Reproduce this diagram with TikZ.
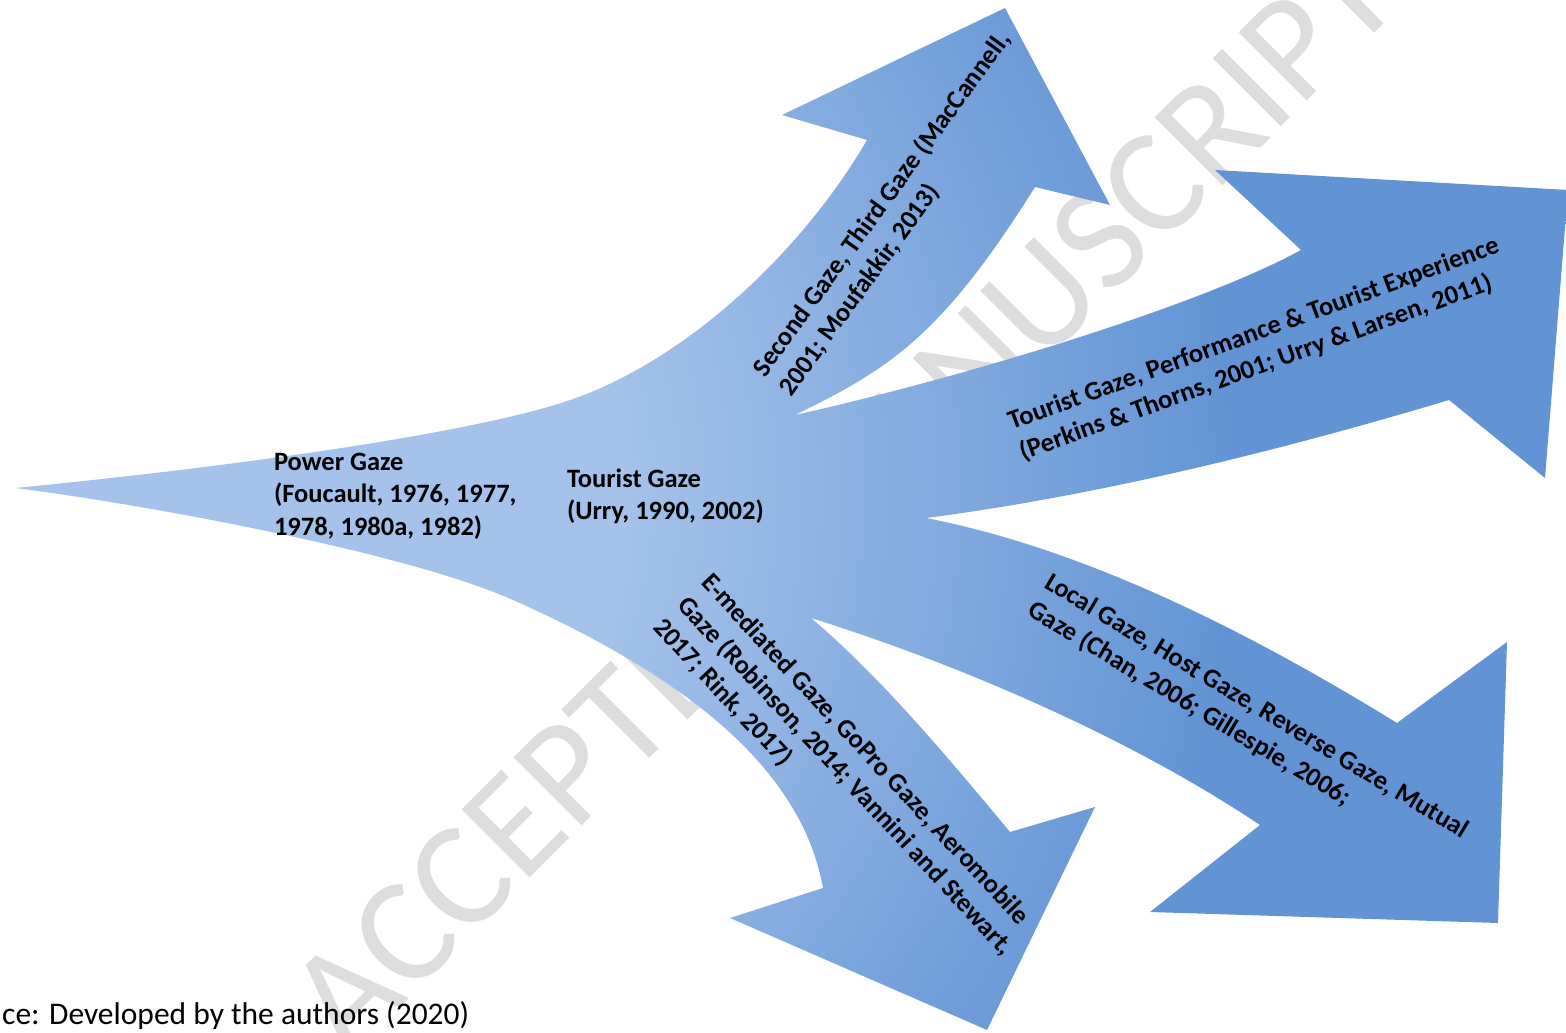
\documentclass[tikz,border=0pt]{standalone}
\usepackage{fontspec}
\setmainfont{Carlito}
\definecolor{fanlight}{RGB}{165,195,234}
\definecolor{fandark}{RGB}{98,148,213}
\definecolor{wmgray}{RGB}{221,221,221}
% the shading square (100bp) is stretched so that its middle 50bp cover the path box
\pgfdeclareradialshading{fan}{\pgfpoint{0bp}{0bp}}{color(0bp)=(fanlight); color(7.2bp)=(fanlight); color(17.8bp)=(fandark); color(50bp)=(fandark)}
\begin{document}
\begin{tikzpicture}[x=1pt,y=-1pt,
  lbl/.style={inner sep=0pt, outer sep=0pt, align=left, anchor=base west, text=black,
              font=\bfseries\fontsize{26.5}{32.5}\selectfont},
  wmtext/.style={inner sep=0pt, rotate=45, text=wmgray, font=\fontsize{150}{150}\selectfont},
  captext/.style={inner sep=0pt, anchor=base west, text=black, font=\fontsize{31.5}{36}\selectfont}]
\path[use as bounding box] (0,0) rectangle (1566,1033);
\clip (0,0) rectangle (1566,1033);
% watermark
\node[wmtext] (wm) at (843,497) {ACCEPTED MANUSCRIPT};
% fan of arrows
\begin{scope}
\clip (15,488)
 .. controls (200,470) and (450,438) .. (561,403)
 .. controls (680,366) and (800,255) .. (867,140)
 -- (782,115) -- (1005,8) -- (1110,205) -- (1035,187)
 .. controls (941,337) and (889,369) .. (795,415)
 .. controls (965,377) and (1201,305) .. (1301,250)
 -- (1215,170) -- (1568,190) -- (1545,478) -- (1449,400)
 .. controls (1279,451) and (1096,496) .. (926,518)
 .. controls (1096,551) and (1267,643) .. (1397,723)
 -- (1507,642) -- (1498,923) -- (1150,912) -- (1260,825)
 .. controls (1130,738) and (961,665) .. (811,618)
 .. controls (881,677) and (950,760) .. (1010,832)
 -- (1095,807) -- (987,1030) -- (730,918) -- (823,888)
 .. controls (800,760) and (670,670) .. (513,600)
 .. controls (403,551) and (135,503) .. (15,488)
 -- cycle;
\shade[shading=fan] (-1250,-960) rectangle (1650,1940);
\end{scope}
% labels (anchor = start of the last line's baseline)
\node[lbl] (power) at (274,535) {Power Gaze\\(Foucault, 1976, 1977,\\1978, 1980a, 1982)};
\node[lbl] (tourist) at (567,519.5) {Tourist Gaze\\(Urry, 1990, 2002)};
\node[lbl, rotate=54] (second) at (791.3,397.1) {Second Gaze, Third Gaze (MacCannell,\\2001; Moufakkir, 2013)};
\node[lbl, rotate=20] (tperf) at (1023.1,460.5) {Tourist Gaze, Performance \& Tourist Experience\\(Perkins \& Thorns, 2001; Urry \& Larsen, 2011)};
\node[lbl, rotate=-47] (emed) at (652.5,628.3) {E-mediated Gaze, GoPro Gaze, Aeromobile\\Gaze (Robinson, 2014; Vannini and Stewart,\\2017; Rink, 2017)};
\node[lbl, rotate=-31] (local) at (1026.3,614.9) {Local Gaze, Host Gaze, Reverse Gaze, Mutual\\Gaze (Chan, 2006; Gillespie, 2006;};
\node[captext] (caption) at (2,1024) {ce: Developed by the authors (2020)};
\end{tikzpicture}
\end{document}
